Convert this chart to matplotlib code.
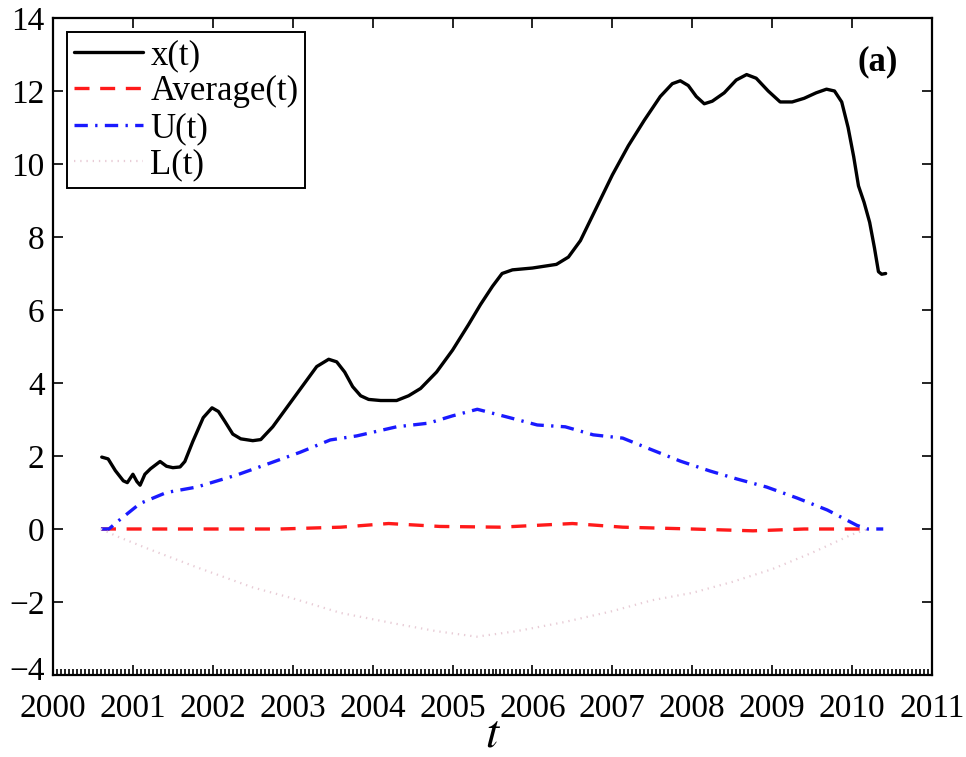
import numpy as np
import matplotlib
matplotlib.use("Agg")
import matplotlib.pyplot as plt
from matplotlib.ticker import MultipleLocator, FuncFormatter

plt.rcParams['font.family'] = ['Liberation Serif', 'DejaVu Serif']
plt.rcParams['mathtext.fontset'] = 'stix'

# x(t): observed series
t_x = [2000.61, 2000.69, 2000.78, 2000.88, 2000.93, 2001.00, 2001.05, 2001.09, 2001.15,
       2001.22, 2001.34, 2001.42, 2001.50, 2001.59, 2001.65, 2001.75, 2001.88, 2001.99,
       2002.07, 2002.15, 2002.25, 2002.35, 2002.50, 2002.60, 2002.75, 2002.90, 2003.10,
       2003.30, 2003.45, 2003.55, 2003.65, 2003.75, 2003.85, 2003.95, 2004.10, 2004.30,
       2004.45, 2004.60, 2004.80, 2005.00, 2005.20, 2005.35, 2005.50, 2005.62, 2005.75,
       2006.00, 2006.30, 2006.45, 2006.60, 2006.80, 2007.00, 2007.20, 2007.40, 2007.60,
       2007.75, 2007.85, 2007.95, 2008.05, 2008.15, 2008.25, 2008.40, 2008.55, 2008.68,
       2008.80, 2008.95, 2009.10, 2009.25, 2009.40, 2009.55, 2009.68, 2009.78, 2009.87,
       2009.95, 2010.02, 2010.08, 2010.15, 2010.22, 2010.28, 2010.33, 2010.37, 2010.42]
v_x = [1.97, 1.92, 1.60, 1.32, 1.27, 1.50, 1.30, 1.20, 1.50,
       1.65, 1.85, 1.72, 1.68, 1.70, 1.85, 2.40, 3.05, 3.32,
       3.22, 2.95, 2.60, 2.47, 2.42, 2.45, 2.80, 3.25, 3.85,
       4.45, 4.65, 4.58, 4.30, 3.90, 3.65, 3.55, 3.52, 3.52,
       3.65, 3.85, 4.30, 4.90, 5.60, 6.15, 6.65, 7.00, 7.10,
       7.15, 7.25, 7.45, 7.90, 8.80, 9.70, 10.50, 11.20, 11.85,
       12.20, 12.28, 12.15, 11.85, 11.65, 11.72, 11.95, 12.30, 12.45,
       12.35, 12.00, 11.70, 11.70, 11.80, 11.95, 12.05, 12.00, 11.70,
       11.00, 10.20, 9.40, 8.95, 8.40, 7.70, 7.05, 6.98, 7.00]

# Average(t)
t_avg = [2000.60, 2001.50, 2002.84, 2003.60, 2004.20, 2004.84, 2005.60, 2006.50,
         2007.13, 2008.00, 2008.76, 2009.40, 2010.16]
v_avg = [0.00, 0.00, 0.00, 0.05, 0.15, 0.07, 0.05, 0.15,
         0.05, 0.00, -0.05, 0.00, 0.00]

# U(t): upper bound
t_u = [2000.60, 2000.70, 2000.80, 2001.09, 2001.42, 2001.80, 2002.30, 2002.71, 2003.09,
       2003.47, 2003.80, 2004.30, 2004.70, 2005.00, 2005.31, 2005.68, 2006.06, 2006.41,
       2006.76, 2007.13, 2007.47, 2007.85, 2008.22, 2008.56, 2008.93, 2009.31, 2009.69,
       2010.06, 2010.19, 2010.39]
v_u = [0.00, 0.00, 0.19, 0.70, 1.00, 1.15, 1.48, 1.80, 2.10,
       2.44, 2.55, 2.80, 2.90, 3.10, 3.28, 3.07, 2.85, 2.80,
       2.58, 2.49, 2.19, 1.86, 1.59, 1.37, 1.15, 0.85, 0.52,
       0.10, 0.00, 0.00]

# L(t): lower bound
t_l = [2000.60, 2000.80, 2001.20, 2001.80, 2002.50, 2003.00, 2003.60, 2004.30, 2004.80,
       2005.30, 2005.80, 2006.40, 2007.00, 2007.50, 2008.00, 2008.50, 2009.00, 2009.50,
       2010.00, 2010.20]
v_l = [0.00, -0.20, -0.55, -1.05, -1.60, -1.90, -2.30, -2.60, -2.80,
       -2.95, -2.80, -2.55, -2.25, -1.95, -1.75, -1.45, -1.10, -0.65,
       -0.15, 0.00]

Y_MIN, Y_MAX = -4, 14

fig = plt.figure(figsize=(9.66, 7.57), dpi=100)
ax = fig.add_axes([53/966, 1 - 675/757, 879/966, 657/757])

ax.plot(t_x, v_x, color='black', lw=2.4, label='x(t)',
        solid_joinstyle='round', solid_capstyle='round')
ax.plot(t_avg, v_avg, color='#ff1a1a', lw=2.4, dashes=(4.5, 3.2), label='Average(t)')
ax.plot(t_u, v_u, color='#1a1aff', lw=2.4, dashes=(4.0, 2.2, 0.7, 2.2), label='U(t)')
ax.plot(t_l, v_l, color='#e8ccd6', lw=1.6, dashes=(0.6, 2.2), label='L(t)')

ax.set_xlim(2000, 2011)
ax.set_ylim(Y_MIN, Y_MAX)
ax.xaxis.set_major_locator(MultipleLocator(1))
ax.xaxis.set_minor_locator(MultipleLocator(1 / 20))
ax.yaxis.set_major_locator(MultipleLocator(2))
ax.tick_params(which='both', direction='in', top=True, right=True,
               labelsize=24, width=1.2)
ax.tick_params(axis='x', pad=13)
ax.tick_params(axis='y', pad=6)
ax.tick_params(which='major', length=7)
ax.tick_params(which='minor', length=4, top=False)
ax.xaxis.set_major_formatter(FuncFormatter(lambda v, p: f"{int(round(v))}"))


def ylabel_fmt(v, p):
    # the bottom label is drawn separately, nudged upward
    if abs(v - Y_MIN) < 1e-9:
        return ""
    return f"{int(round(v))}".replace('-', '\u2212')


ax.yaxis.set_major_formatter(FuncFormatter(ylabel_fmt))
ax.annotate(f"{Y_MIN}".replace('-', '\u2212'), xy=(0, Y_MIN),
            xycoords=('axes fraction', 'data'), xytext=(-6, 2),
            textcoords='offset points', ha='right', va='center', fontsize=24)

for s in ax.spines.values():
    s.set_linewidth(1.6)

ax.set_xlabel(r'$t$', fontsize=34, labelpad=-7)

leg = ax.legend(loc='upper left', fontsize=25, handlelength=2.0, labelspacing=0.1,
                handletextpad=0.2, borderpad=0.2, borderaxespad=0.4,
                fancybox=False, framealpha=1, edgecolor='black')
leg.get_frame().set_linewidth(1.4)

ax.text(0.938, 0.933, '(a)', transform=ax.transAxes, fontsize=25, fontweight='bold',
        ha='center', va='center')

fig.savefig('out.png', dpi=100, facecolor='white')
